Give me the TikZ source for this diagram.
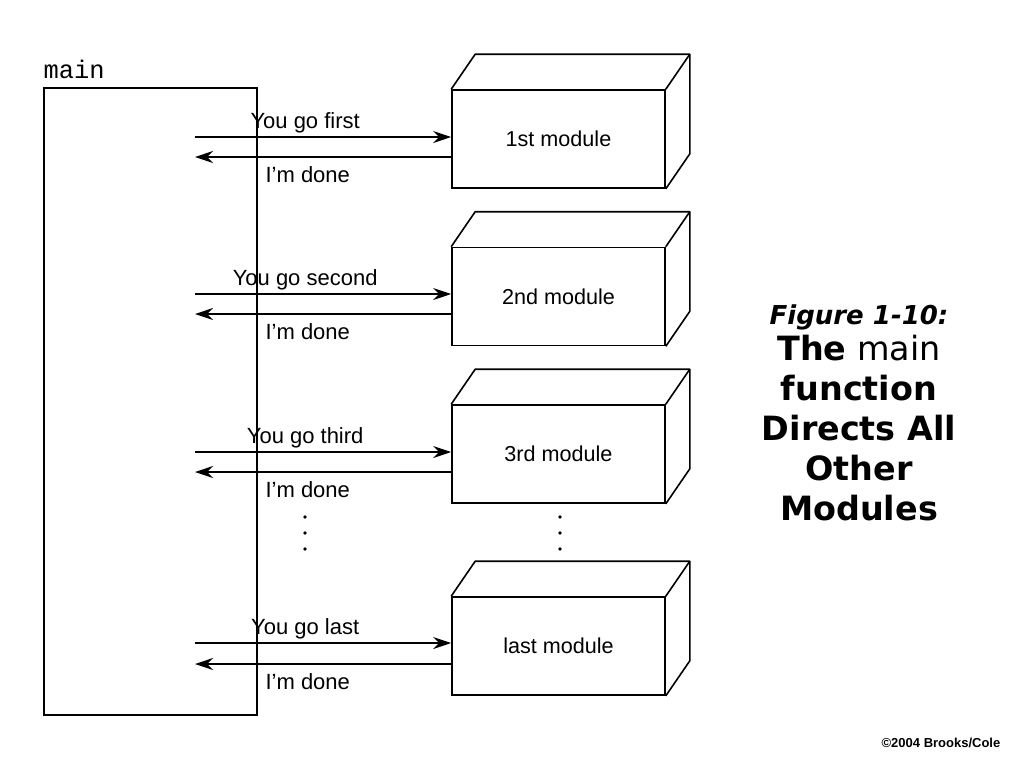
\documentclass[tikz,border=0pt]{standalone}
\usepackage{fontspec}
\setmainfont{Liberation Sans}
\newfontfamily\titlefont{DejaVu Sans}
\newfontfamily\codefont{Liberation Mono}
\usetikzlibrary{arrows.meta}
\tikzstyle{module} = [rectangle, draw=black, line width=0.8pt, minimum width=106.5pt, minimum height=49pt, inner sep=0pt, text centered, font=\fontsize{10.8}{13}\selectfont]
\tikzstyle{mainbox} = [rectangle, draw=black, line width=0.8pt, minimum width=106.5pt, minimum height=313.5pt, inner sep=0pt]
\tikzstyle{face} = [line width=0.8pt, line join=round]
\tikzstyle{msg} = [font=\fontsize{11}{13}\selectfont, inner sep=1pt]
\tikzstyle{arrow} = [line width=0.7pt, -{Stealth[length=9pt, width=6pt]}]

\begin{document}
\begin{tikzpicture}[x=0.5pt, y=-0.5pt]
\useasboundingbox (0,0) rectangle (1024,768);

%% NODES

\node (main) [mainbox] at (150.5,401.5) {};
\node (main_label) [anchor=south west, inner sep=0pt, font=\codefont\fontsize{12.7}{14}\selectfont] at ([yshift=4pt]main.north west) {main};
\node (m1) [module] at (558.5,139) {1st module};
\node (m2) [module] at (558.5,296.5) {2nd module};
\node (m3) [module] at (558.5,454) {3rd module};
\node (m4) [module] at (558.5,646) {last module};
\node (caption) [align=center, font=\titlefont\fontsize{16.7}{20}\selectfont] at (859,413) {{\fontsize{13}{16}\selectfont\bfseries\itshape Figure 1-10:}\\[-2pt] \textbf{The} main\\ \textbf{function}\\ \textbf{Directs All}\\ \textbf{Other}\\ \textbf{Modules}};
\node (credit) [font=\bfseries\fontsize{6.5}{8}\selectfont] at (941,743) {©2004 Brooks/Cole};

%% free ends inside main
\coordinate (go1) at (195,137);
\coordinate (back1) at (195,157);
\coordinate (go2) at (195,294);
\coordinate (back2) at (195,314);
\coordinate (go3) at (195,452);
\coordinate (back3) at (195,472);
\coordinate (go4) at (195,643);
\coordinate (back4) at (195,664);

%% DEPTH OF THE MODULES

\foreach \m in {m1,m2,m3,m4} {
  \draw [face] (\m.north west) -- ([shift={(24,-35)}]\m.north west) -- ([shift={(24,-35)}]\m.north east) -- ([shift={(24,-35)}]\m.south east) -- (\m.south east);
  \draw [face] (\m.north east) -- ([shift={(24,-35)}]\m.north east);
}

%% ARROWS

\draw [arrow] (go1) -- (go1 -| m1.west) node[msg, pos=0.43, above=0.5pt] {You go first};
\draw [arrow] (back1 -| m1.west) -- (back1) node[msg, pos=0.735, anchor=north west, yshift=-3.5pt] {I'm done};
\draw [arrow] (go2) -- (go2 -| m2.west) node[msg, pos=0.43, above=0.5pt] {You go second};
\draw [arrow] (back2 -| m2.west) -- (back2) node[msg, pos=0.735, anchor=north west, yshift=-3.5pt] {I'm done};
\draw [arrow] (go3) -- (go3 -| m3.west) node[msg, pos=0.43, above=0.5pt] {You go third};
\draw [arrow] (back3 -| m3.west) -- (back3) node[msg, pos=0.735, anchor=north west, yshift=-3.5pt] {I'm done};
\draw [arrow] (go4) -- (go4 -| m4.west) node[msg, pos=0.43, above=0.5pt] {You go last};
\draw [arrow] (back4 -| m4.west) -- (back4) node[msg, pos=0.735, anchor=north west, yshift=-3.5pt] {I'm done};

%% DOTS

\foreach \y in {517,533,549} {
  \fill (305,\y) circle (0.9pt);
  \fill (560,\y) circle (0.9pt);
}

\end{tikzpicture}
\end{document}
